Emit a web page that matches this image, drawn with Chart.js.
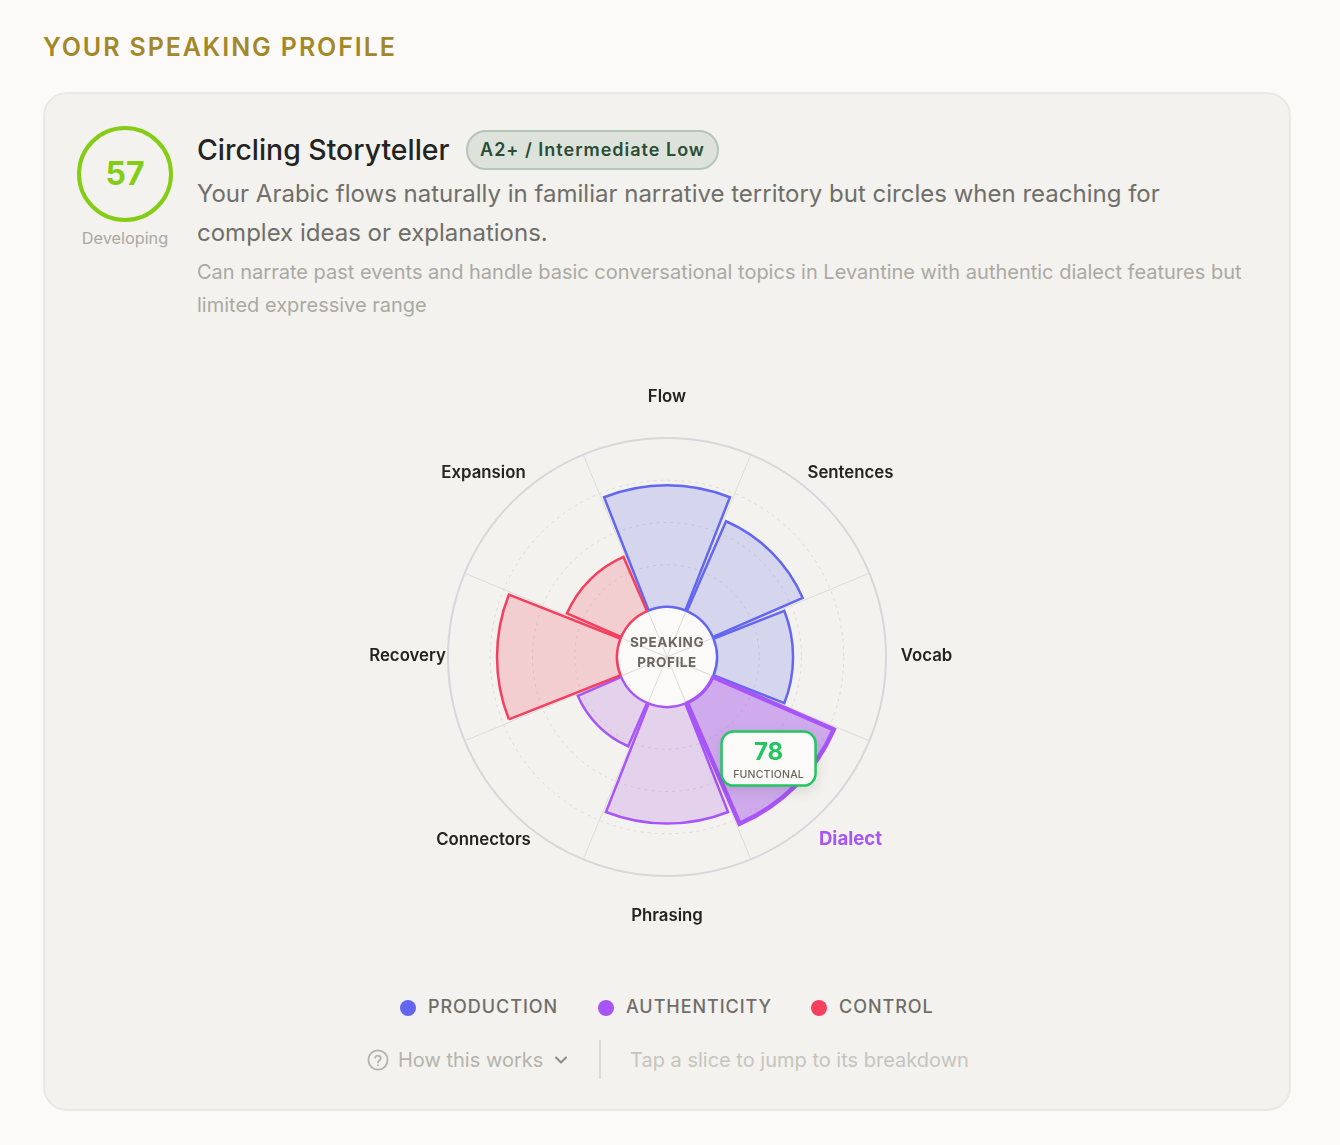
<!DOCTYPE html>
<html>
<head>
<meta charset="utf-8">
<title>Your Speaking Profile</title>
<script src="https://cdn.jsdelivr.net/npm/chart.js@4"></script>
<style>
html, body { margin: 0; padding: 0; background: #fbfaf8; }
body { position: relative; width: 1340px; height: 1145px; overflow: hidden; font-family: Inter, sans-serif; }
.abs { position: absolute; white-space: nowrap; }
#heading { left: 43px; top: 31px; font-size: 25px; line-height: 32px; font-weight: 600; letter-spacing: 1.9px; color: #a38829; }
#card { left: 43px; top: 92px; width: 1244px; height: 1015px; background: #f3f2ee; border: 2px solid #e9e8e4; border-radius: 24px; }
#ring { left: 77px; top: 126px; width: 88px; height: 88px; border: 4px solid #84cc16; border-radius: 50%; text-align: center; line-height: 88px; font-size: 32px; font-weight: 700; color: #84cc16; }
#ringLabel { left: 65px; width: 120px; top: 227px; line-height: 22px; text-align: center; font-size: 16.3px; color: #a9a8a3; }
#title { left: 197px; top: 132px; font-size: 28.4px; line-height: 36px; font-weight: 500; color: #23231f; }
#badge { left: 466px; top: 130px; width: 249px; height: 36px; line-height: 36px; text-align: center; background: #dde3db; border: 2px solid #b5c5b7; border-radius: 20px; font-size: 18px; font-weight: 600; letter-spacing: 1px; color: #2a4d36; }
.desc { left: 197px; font-size: 24px; line-height: 39px; color: #706e69; }
.sub { left: 197px; font-size: 20px; line-height: 33px; color: #aaa9a4; }
#chartBox { left: 357px; top: 347px; width: 620px; height: 620px; }
.dot { width: 16px; height: 16px; border-radius: 50%; top: 1000px; }
.legendText { top: 995px; line-height: 24px; font-size: 18px; font-weight: 500; letter-spacing: 0.95px; color: #6f6d68; }
.hint { top: 1047px; line-height: 27px; font-size: 20px; }
#divider { left: 599px; top: 1040px; width: 2px; height: 39px; background: #dddcd7; }
</style>
</head>
<body>
<div class="abs" id="heading">YOUR SPEAKING PROFILE</div>
<div class="abs" id="card"></div>
<div class="abs" id="ring">57</div>
<div class="abs" id="ringLabel">Developing</div>
<div class="abs" id="title">Circling Storyteller</div>
<div class="abs" id="badge">A2+ / Intermediate Low</div>
<div class="abs desc" style="top:174px">Your Arabic flows naturally in familiar narrative territory but circles when reaching for</div>
<div class="abs desc" style="top:213px">complex ideas or explanations.</div>
<div class="abs sub" style="top:256px">Can narrate past events and handle basic conversational topics in Levantine with authentic dialect features but</div>
<div class="abs sub" style="top:289px">limited expressive range</div>

<div class="abs" id="chartBox"><canvas id="profileChart" width="620" height="620"></canvas></div>

<div class="abs dot" style="left:400px;background:#6366f1"></div>
<div class="abs legendText" style="left:428px">PRODUCTION</div>
<div class="abs dot" style="left:598px;background:#a855f7"></div>
<div class="abs legendText" style="left:626px">AUTHENTICITY</div>
<div class="abs dot" style="left:811px;background:#f43f5e"></div>
<div class="abs legendText" style="left:839px">CONTROL</div>

<svg class="abs" style="left:367px;top:1049px" width="22" height="22" viewBox="0 0 22 22" fill="none" stroke="#b5b2ab" stroke-width="1.8" stroke-linecap="round">
  <circle cx="11" cy="11" r="9.6"/>
  <path d="M8.2 8.6a2.9 2.9 0 0 1 5.6 .8c0 1.9-2.8 2.3-2.8 4"/>
  <path d="M11 16.2v.1"/>
</svg>
<div class="abs hint" style="left:398px;color:#b5b2ab">How this works</div>
<svg class="abs" style="left:553px;top:1054px" width="16" height="12" viewBox="0 0 16 12" fill="none" stroke="#8f8c85" stroke-width="2" stroke-linecap="round" stroke-linejoin="round">
  <path d="M3 3.5l5 5 5-5"/>
</svg>
<div class="abs" id="divider"></div>
<div class="abs hint" style="left:630px;color:#c6c4be">Tap a slice to jump to its breakdown</div>

<script>
// slices run clockwise from the top
var categories = ["Flow", "Sentences", "Vocab", "Dialect", "Phrasing", "Connectors", "Recovery", "Expansion"];
var scores = [72, 58, 45, 78, 69, 28, 71, 35];
var sliceColors = ["#6366f1", "#6366f1", "#6366f1", "#a855f7", "#a855f7", "#a855f7", "#f43f5e", "#f43f5e"];
var sliceFills = [
	"rgba(99,102,241,0.2)", "rgba(99,102,241,0.2)", "rgba(99,102,241,0.2)",
	"rgba(165,85,235,0.45)", "rgba(168,85,235,0.2)", "rgba(168,85,235,0.2)",
	"rgba(244,63,94,0.2)", "rgba(244,63,94,0.2)"
];
var ringTicks = [0, 25, 50, 75, 100];
var activeIndex = 3;
var activeBand = "FUNCTIONAL";

var HOLE = 50;
var RADIUS = 219;
var GAP = Math.PI / 180;

// trims each wedge a little so neighbours do not touch
var sliceGap = {
	id: 'sliceGap',
	afterDatasetsUpdate: function(chart) {
		chart.getDatasetMeta(0).data.forEach(function(arc) {
			arc.startAngle += GAP;
			arc.endAngle -= GAP;
		});
	}
};

// hub in the middle, category labels round the outside, callout on the active slice
var overlay = {
	id: 'overlay',
	afterDatasetsDraw: function(chart) {
		var ctx = chart.ctx;
		var r = chart.scales.r;
		var arcs = chart.getDatasetMeta(0).data;
		var hub = r.getDistanceFromCenterForValue(0);
		var i, p;

		ctx.save();
		ctx.beginPath();
		ctx.arc(r.xCenter, r.yCenter, hub, 0, Math.PI * 2);
		ctx.fillStyle = '#fbfaf8';
		ctx.fill();

		ctx.strokeStyle = '#dcdbd8';
		ctx.lineWidth = 1;
		for (i = 0; i < categories.length; i++) {
			p = r.getPointPosition(i, hub);
			ctx.beginPath();
			ctx.moveTo(r.xCenter, r.yCenter);
			ctx.lineTo(p.x, p.y);
			ctx.stroke();
		}

		arcs.forEach(function(arc, idx) {
			ctx.beginPath();
			ctx.arc(r.xCenter, r.yCenter, hub, arc.startAngle - GAP, arc.endAngle + GAP);
			ctx.strokeStyle = sliceColors[idx];
			ctx.lineWidth = idx === activeIndex ? 3.5 : 2.5;
			ctx.stroke();
		});

		ctx.textAlign = 'center';
		ctx.textBaseline = 'middle';
		ctx.fillStyle = '#6b675f';
		ctx.font = '700 13.5px Inter';
		ctx.letterSpacing = '0.55px';
		ctx.fillText('SPEAKING', r.xCenter, r.yCenter - 14);
		ctx.fillText('PROFILE', r.xCenter, r.yCenter + 6);

		ctx.letterSpacing = '0px';
		for (i = 0; i < categories.length; i++) {
			var a = r.getIndexAngle(i) + Math.PI / categories.length - Math.PI / 2;
			var lx = r.xCenter + Math.cos(a) * 259.5;
			var ly = r.yCenter + Math.sin(a) * 259.5 - 0.8;
			if (i === activeIndex) {
				ctx.font = '700 18.6px Inter';
				ctx.fillStyle = sliceColors[i];
			} else {
				ctx.font = '600 16.8px Inter';
				ctx.fillStyle = '#23231f';
			}
			ctx.fillText(categories[i], lx, ly);
		}

		// callout sits part way along the active slice
		var mid = (arcs[activeIndex].startAngle + arcs[activeIndex].endAngle) / 2;
		var dist = r.getDistanceFromCenterForValue(scores[activeIndex]) * 0.79;
		var bx = r.xCenter + Math.cos(mid) * dist;
		var by = r.yCenter + Math.sin(mid) * dist;
		ctx.save();
		ctx.shadowColor = 'rgba(0,0,0,0.14)';
		ctx.shadowBlur = 16;
		ctx.shadowOffsetY = 4;
		ctx.beginPath();
		ctx.roundRect(bx - 47, by - 27, 94, 54, 12);
		ctx.fillStyle = '#fbfaf8';
		ctx.fill();
		ctx.restore();
		ctx.beginPath();
		ctx.roundRect(bx - 47, by - 27, 94, 54, 12);
		ctx.strokeStyle = '#22c55e';
		ctx.lineWidth = 2.5;
		ctx.stroke();
		ctx.fillStyle = '#22c55e';
		ctx.font = '700 24px Inter';
		ctx.fillText(String(scores[activeIndex]), bx, by - 6);
		ctx.fillStyle = '#6b675f';
		ctx.font = '500 10.5px Inter';
		ctx.letterSpacing = '0.2px';
		ctx.fillText(activeBand, bx, by + 16);
		ctx.restore();
	}
};

var ctx = document.getElementById("profileChart").getContext('2d');
var profileChart = new Chart(ctx, {
	type: 'polarArea',
	data: {
		labels: categories,
		datasets: [{
			data: scores,
			backgroundColor: sliceFills,
			borderColor: sliceColors,
			borderWidth: scores.map(function(v, i) { return i === activeIndex ? 4.5 : 2.5; }),
			borderJoinStyle: 'miter'
		}]
	},
	options: {
		responsive: false,
		animation: false,
		layout: { padding: 310 - RADIUS },
		plugins: {
			legend: { display: false },
			tooltip: { enabled: false }
		},
		scales: {
			r: {
				// negative floor opens the hole in the middle, value 0 lands on the hub edge
				min: -HOLE / ((RADIUS - HOLE) / 100),
				max: 100,
				startAngle: -22.5,
				afterBuildTicks: function(scale) {
					scale.ticks = ringTicks.map(function(v) { return { value: v }; });
				},
				ticks: { display: false },
				pointLabels: { display: false },
				angleLines: { display: true, color: '#dcdbd8', lineWidth: 1 },
				grid: {
					circular: true,
					color: function(c) { return c.tick && c.tick.value === 100 ? '#d6d7db' : '#d9d9d7'; },
					lineWidth: function(c) { return c.tick && c.tick.value === 100 ? 2 : 1; }
				},
				border: {
					dash: function(c) { return c.tick && c.tick.value === 100 ? [] : [3, 4]; }
				}
			}
		}
	},
	plugins: [sliceGap, overlay]
});
</script>
</body>
</html>
